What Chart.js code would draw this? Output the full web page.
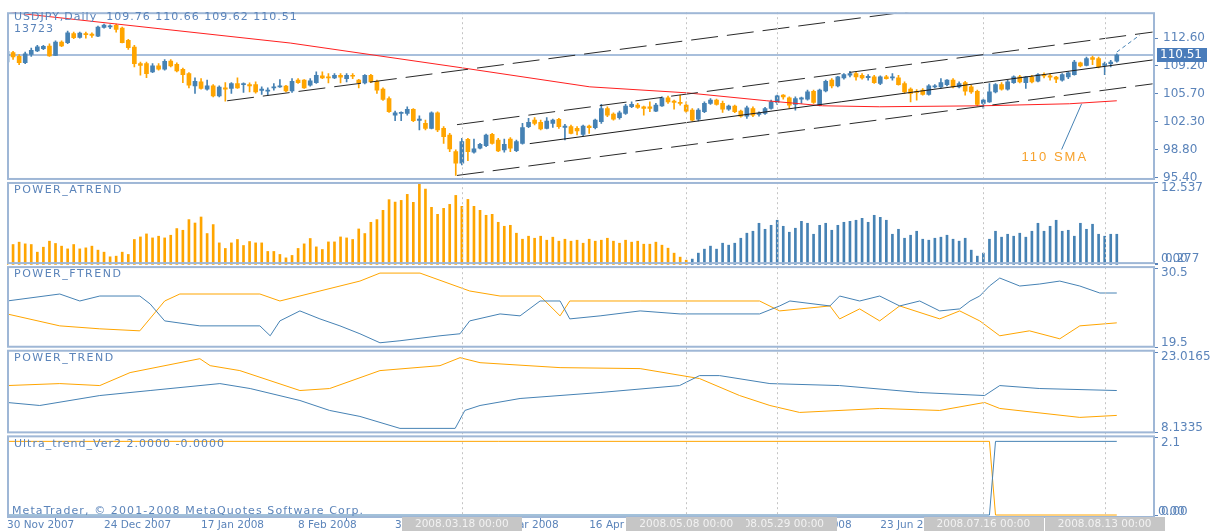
<!DOCTYPE html>
<html lang="en">
<head>
<meta charset="UTF-8">
<title>USDJPY Daily</title>
<script src="https://cdn.jsdelivr.net/npm/chart.js@4.4.1/dist/chart.umd.min.js"></script>
<style>
  body { margin: 0; background: #ffffff; }
  #grafica { display: block; }
</style>
</head>
<body>
<canvas id="grafica" width="1216" height="531"></canvas>
<script>
// bar 0 = 30 Nov 2007 ... bar 183 = 15 Aug 2008
const xTickIdx = [0, 16, 32, 48, 64, 80, 96, 112, 128, 144, 160, 176];
const xTickLabels = ['30 Nov 2007', '24 Dec 2007', '17 Jan 2008', '8 Feb 2008', '3 Mar 2008', '25 Mar 2008',
    '16 Apr 2008', '8 May 2008', '30 May 2008', '23 Jun 2008', '15 Jul 2008', '6 Aug 2008'];
const vlineIdx = [75, 112, 127, 161, 181];
const vlineLabels = ['2008.03.18 00:00', '2008.05.08 00:00', '2008.05.29 00:00', '2008.07.16 00:00', '2008.08.13 00:00'];

const opens = [
    109.65,110.80,110.35,109.57,110.59,111.00,111.29,111.62,110.47,112.11,
    112.03,113.17,112.68,113.17,113.09,112.85,113.91,113.99,114.16,113.83,
    112.31,111.49,109.44,109.44,108.42,109.16,108.75,109.77,109.36,108.75,
    108.22,106.70,107.19,106.29,106.70,105.47,106.45,106.37,106.99,106.86,
    106.86,106.86,106.13,106.04,106.45,106.58,106.66,106.09,107.40,107.40,
    106.78,107.11,107.93,107.81,107.68,108.01,107.60,108.01,107.40,107.07,
    108.01,107.27,106.29,105.14,103.09,103.30,103.30,103.79,102.44,102.07,
    101.46,103.38,101.46,100.64,98.59,97.15,100.10,98.51,99.00,99.33,
    100.72,100.02,98.79,100.14,98.71,99.61,101.66,102.48,102.19,101.46,
    102.07,102.56,101.58,101.66,101.46,100.72,101.74,101.54,102.28,103.91,
    103.22,102.77,103.30,104.12,104.32,104.12,104.12,103.59,104.24,105.23,
    104.82,104.65,104.32,103.71,102.60,103.50,104.53,104.94,104.53,103.83,
    104.20,103.59,102.97,103.91,103.18,103.30,103.91,104.65,105.55,105.23,
    104.41,105.06,105.06,106.04,104.32,106.09,107.40,106.70,107.68,108.01,
    108.22,108.01,107.72,107.81,106.99,107.81,107.68,107.68,106.99,106.29,
    106.04,106.17,105.63,106.58,106.58,106.86,107.40,106.58,107.11,106.58,
    106.04,104.53,104.73,105.96,106.86,106.29,107.11,107.81,107.11,107.81,
    107.27,108.09,107.93,107.77,107.40,107.81,108.09,109.53,109.24,110.18,
    110.06,109.24,109.44,109.76];
const highs = [
    111.21,110.96,110.55,110.88,111.37,111.70,111.70,111.90,112.27,112.27,
    113.46,113.34,113.34,113.34,113.26,114.07,114.32,114.24,114.32,113.95,
    112.44,111.70,109.65,109.65,109.44,109.44,109.94,109.94,109.53,108.91,
    108.34,107.68,107.60,107.40,106.86,106.70,107.11,107.11,107.68,107.07,
    107.07,107.19,106.58,106.45,106.99,107.48,106.78,107.60,107.60,107.48,
    107.60,108.42,108.42,108.22,108.22,108.22,108.22,108.22,107.52,108.09,
    108.13,107.40,106.45,105.35,103.59,103.50,104.12,103.91,103.01,102.48,
    103.50,103.50,101.66,100.84,98.79,100.23,100.23,100.14,99.61,100.76,
    100.84,100.23,100.14,100.31,100.02,102.07,102.69,102.77,102.48,102.77,
    102.60,102.69,101.95,101.87,101.66,101.87,101.87,102.60,104.41,104.12,
    103.38,103.59,104.41,104.73,104.53,104.20,104.73,104.53,105.35,105.43,
    104.94,105.55,104.73,103.91,103.91,104.73,105.14,105.06,104.82,104.32,
    104.32,103.71,104.20,104.12,103.50,104.04,104.94,105.55,105.63,105.35,
    105.35,105.31,106.17,106.17,106.29,107.40,107.60,107.89,108.22,108.50,
    108.42,108.22,108.09,108.01,107.93,108.01,108.22,108.01,107.19,106.45,
    106.25,106.37,106.86,106.86,107.60,107.48,107.60,107.19,107.27,106.78,
    106.17,105.06,106.99,106.99,107.11,107.40,107.93,108.01,107.89,108.01,
    108.22,108.30,108.22,107.89,108.22,108.42,109.85,109.65,110.26,110.39,
    110.26,109.65,109.85,110.66];
const lows = [
    109.36,109.98,109.32,109.44,110.35,110.92,111.17,110.35,110.43,111.53,
    111.90,112.52,112.60,112.60,112.68,112.76,113.83,113.75,113.34,111.99,
    111.21,109.04,108.01,107.72,108.34,108.63,108.63,109.04,108.42,107.11,
    106.45,105.76,106.29,106.17,105.35,105.35,104.82,105.76,106.37,105.88,
    105.96,105.80,105.63,105.55,106.17,106.50,105.96,105.88,106.99,106.37,
    106.66,106.99,107.60,107.07,107.60,107.07,107.19,107.60,106.45,106.95,
    107.11,105.76,104.90,103.42,102.40,102.40,103.09,102.28,101.25,101.25,
    101.37,101.05,99.61,98.59,95.64,96.95,97.48,98.38,98.92,99.20,
    99.49,98.59,98.51,98.59,98.59,99.49,101.54,101.87,101.25,101.37,
    101.58,101.46,100.02,100.76,100.64,100.55,100.84,101.37,102.07,102.89,
    102.48,102.60,103.18,104.00,103.91,103.09,103.50,103.50,104.16,104.53,
    103.83,104.32,103.42,102.36,102.36,103.38,104.41,104.32,103.42,103.67,
    103.38,102.85,102.69,102.89,102.97,103.18,103.83,104.41,105.06,103.91,
    103.71,104.53,104.94,104.53,104.24,105.96,106.45,106.58,107.52,107.81,
    107.40,107.52,107.40,106.99,106.86,107.52,107.40,106.78,105.76,104.73,
    104.94,105.55,105.55,106.45,106.45,106.70,106.45,106.45,105.55,105.76,
    104.24,103.91,104.65,105.84,106.17,106.17,106.99,107.07,106.37,107.07,
    107.19,107.68,107.40,107.11,107.27,107.60,108.01,109.04,109.16,109.32,
    108.91,108.09,109.04,109.62];
const closes = [
    110.96,110.26,109.57,110.67,111.08,111.53,111.58,110.39,112.11,111.62,
    113.26,112.64,113.21,113.01,112.93,113.95,114.20,114.12,113.66,112.03,
    111.41,109.44,109.24,108.22,109.16,108.75,109.73,109.16,108.54,108.09,
    106.78,107.27,106.37,106.70,105.47,106.54,106.29,106.99,106.45,106.99,
    106.70,105.96,106.29,106.17,106.58,106.70,106.09,107.27,107.11,106.45,
    107.31,108.01,107.68,107.68,108.01,107.77,108.01,107.89,107.11,108.01,
    107.19,106.17,105.02,103.50,103.38,103.42,103.79,102.40,102.60,101.46,
    103.38,101.25,100.43,98.92,97.15,99.82,98.59,98.92,99.49,100.64,
    99.61,98.67,99.49,99.00,99.82,101.54,102.19,102.07,101.37,102.36,
    102.48,101.66,101.74,100.84,101.13,101.74,101.54,102.48,103.91,103.09,
    102.60,103.38,104.20,104.41,104.04,103.91,103.91,104.32,105.23,104.73,
    104.65,104.53,103.59,102.48,103.71,104.53,104.94,104.41,103.83,104.20,
    103.50,102.97,104.00,103.09,103.30,103.91,104.73,105.47,105.35,104.32,
    105.14,105.23,105.96,104.65,106.17,107.27,106.70,107.81,108.09,108.22,
    107.81,107.68,107.89,107.11,107.81,107.60,107.81,106.86,105.96,105.76,
    105.88,105.63,106.70,106.70,107.11,107.40,106.58,106.99,106.04,105.96,
    104.41,104.94,105.96,106.86,106.29,107.19,107.81,107.19,107.81,107.19,
    108.09,107.93,107.77,107.52,108.09,108.30,109.65,109.16,110.06,109.98,
    109.04,109.44,109.65,110.51];

// [bar, price] points
const sma110 = [[0, 115.95], [1.8, 115.67], [46.7, 111.99], [75.2, 108.91], [96.1, 106.58], [112.1, 105.84],
    [125.3, 104.86], [134.5, 104.24], [143.9, 104.12], [160.9, 104.24], [175.2, 104.49], [183, 104.86]];
const channelA = [[36.3, 104.86], [189.3, 119.85]];
const channelB = [[74.2, 101.91], [188.9, 113.34]];
const channelC = [[86.2, 99.57], [188.9, 109.90]];
const channelD = [[74.2, 95.64], [188.9, 106.95]];
const projection = [[183, 110.88], [186.8, 112.97]];
const smaPointer = [[173.9, 98.84], [177.2, 104.49]];
const priceTicks = [95.40, 98.80, 102.30, 105.70, 109.20, 112.60];

const atrend = [
    3.22,3.12,3.48,3.22,3.12,1.95,2.71,3.63,3.28,2.87,
    2.45,3.12,2.45,2.61,2.87,2.26,1.95,1.24,1.34,1.95,
    1.60,3.89,4.28,4.74,4.13,4.39,4.13,4.54,5.56,5.30,
    6.93,6.41,7.33,4.80,6.17,3.37,2.52,3.37,3.89,2.97,
    3.58,3.37,3.37,2.06,2.06,1.60,1.08,1.45,2.52,3.22,
    4.04,2.76,2.36,3.52,3.52,4.28,4.13,3.89,5.50,4.80,
    6.52,6.93,8.35,9.98,9.61,9.87,10.79,9.57,12.5,11.6,
    8.81,7.74,8.65,9.26,10.63,8.96,10.02,8.96,8.35,7.59,
    7.74,6.52,5.91,6.06,4.85,3.93,4.39,4.08,4.39,3.78,
    4.24,3.63,3.93,3.63,3.78,3.32,3.93,3.63,3.78,4.08,
    3.63,3.32,3.78,3.48,3.63,3.17,3.17,3.48,3.02,2.56,
    1.80,1.19,0.73,0.89,1.80,2.41,2.87,2.41,3.32,3.02,
    3.32,4.08,4.85,5.15,6.37,5.45,6.06,6.83,5.91,5.00,
    5.61,6.67,6.37,4.69,6.06,6.37,5.30,6.06,6.52,6.67,
    6.83,7.13,6.52,7.59,7.28,6.83,4.69,5.45,4.08,4.54,
    5.15,3.93,3.78,4.08,4.24,4.54,3.93,3.63,4.08,2.26,
    1.34,1.80,3.93,5.15,4.24,4.69,4.39,4.85,4.24,5.15,
    6.37,5.15,5.91,6.83,5.15,5.30,4.39,6.37,5.45,6.22,
    4.69,4.39,4.69,4.69];
const atrendBlueFrom = 113;
const atrendTicks = [12.537, 0.277, 0];
const atrendTickText = ['12.537', '0.277', '0.00'];

const ftrendBlue = [[0, 25.93], [8.7, 26.90], [12, 25.93], [15.3, 26.62], [21.9, 26.62], [23.6, 25.52], [26, 23.16],
    [31.8, 22.47], [41.7, 22.47], [43.4, 21.09], [45, 23.16], [48.3, 24.55], [51.6, 23.44], [54.9, 22.47],
    [58.2, 21.37], [61.5, 20.12], [64.8, 20.40], [71.4, 21.09], [74.7, 21.37], [76.3, 23.16], [81.3, 24.13],
    [84.6, 23.86], [87.9, 25.93], [91.2, 25.93], [92.8, 23.44], [97.8, 23.86], [104.4, 24.55], [111, 24.13],
    [124.1, 24.13], [127.4, 25.24], [129.1, 25.93], [135.7, 25.24], [137.3, 26.62], [140.6, 25.93], [143.9, 26.62],
    [147.2, 25.24], [150.5, 25.93], [153.8, 24.55], [157.1, 24.83], [158.8, 25.93], [160.4, 26.62], [162, 28.01],
    [163.7, 29.12], [167, 28.01], [170.3, 28.29], [173.6, 28.70], [176.9, 28.01], [180.2, 27.04], [183, 27.04]];
const ftrendOrange = [[0, 24.13], [8.7, 22.47], [15.3, 22.06], [21.9, 21.78], [26, 25.93], [28.5, 26.90], [41.7, 26.90],
    [45, 25.93], [51.6, 27.32], [58.2, 28.70], [61.5, 29.81], [68.1, 29.81], [76.3, 27.32], [81.3, 26.62],
    [87.9, 26.62], [91.2, 23.86], [92.8, 25.93], [104.4, 25.93], [124.1, 25.93], [127.4, 24.55], [135.7, 25.24],
    [137.3, 23.44], [140.6, 24.83], [143.9, 23.16], [147.2, 25.24], [153.8, 23.44], [157.1, 24.55], [160.4, 23.16],
    [163.7, 21.09], [168.6, 21.78], [173.6, 20.67], [176.9, 22.47], [183, 22.89]];
const ftrendTicks = [30.5, 19.5];
const ftrendTickText = ['30.5', '19.5'];

const trendBlue = [[0, 13.68], [5.4, 13.12], [15.3, 14.97], [23.6, 15.90], [35.1, 17.19], [40.1, 16.27], [48.3, 14.05],
    [53.2, 12.20], [58.2, 11.09], [64.8, 8.87], [73.9, 8.87], [75.5, 12.20], [78, 13.12], [84.6, 14.42],
    [97.8, 15.53], [110.9, 16.82], [114.2, 18.67], [117.5, 18.67], [125.8, 17.19], [137.3, 16.82], [150.5, 15.53],
    [161.2, 14.97], [163.7, 16.82], [170.3, 16.27], [183, 15.90]];
const trendOrange = [[0, 16.82], [8.7, 17.19], [15.3, 16.82], [20.3, 19.23], [31.8, 21.81], [33.5, 20.52], [38.4, 19.60],
    [48.3, 15.90], [53.2, 16.27], [61.5, 19.60], [71.4, 20.52], [74.7, 22.00], [78, 21.07], [91.2, 20.15],
    [104.4, 19.97], [114.2, 18.12], [120.8, 14.97], [125.8, 13.12], [130.7, 11.83], [143.9, 12.57], [153.8, 12.20],
    [161.2, 13.68], [163.7, 12.57], [176.9, 10.91], [183, 11.28]];
const trendTicks = [23.0165, 8.1335];
const trendTickText = ['23.0165', '8.1335'];

const ultraBlue = [[0, 0], [162, 0], [163, 2], [183, 2]];
const ultraOrange = [[0, 2], [162, 2], [163, 0], [183, 0]];
const ultraTicks = [2.1, 0, 0];
const ultraTickText = ['2.1', '0.00', '0.00'];

const colUp = '#4682b4';
const colDn = '#ffa500';
const colText = '#5b84ba';
const colFrame = '#9fb7d6';
const fuente = '"DejaVu Sans", sans-serif';

const pts = arr => arr.map(p => ({ x: p[0], y: p[1] }));
const idx = opens.map((o, i) => i);
const candleCol = idx.map(i => closes[i] >= opens[i] ? colUp : colDn);

function linea(data, axis, color, dash) {
    return {
        type: 'line', data: pts(data), yAxisID: axis, borderColor: color, borderWidth: 1,
        borderDash: dash || [], pointRadius: 0, tension: 0, fill: false
    };
}

const panelInfo = {
    yA: { ticks: atrendTicks, text: atrendTickText, dx: [0, 4, 0] },
    yF: { ticks: ftrendTicks, text: ftrendTickText, dx: [0, 0] },
    yT: { ticks: trendTicks, text: trendTickText, dx: [0, 0] },
    yU: { ticks: ultraTicks, text: ultraTickText, dx: [0, 0, -3] }
};

function texto(ctx, str, x, y, color, font, spacing, align) {
    ctx.save();
    ctx.font = font || ('11px ' + fuente);
    ctx.fillStyle = color || colText;
    ctx.textBaseline = 'middle';
    ctx.textAlign = align || 'left';
    ctx.letterSpacing = spacing || '0px';
    ctx.fillText(str, x, y);
    ctx.restore();
}

const mtPlugin = {
    id: 'mt',
    beforeDatasetsDraw(chart) {
        const { ctx, chartArea: a, scales } = chart;
        const yp = Math.round(scales.yPrice.getPixelForValue(closes[closes.length - 1]));
        ctx.save();
        ctx.strokeStyle = '#a8bfdc';
        ctx.lineWidth = 2;
        ctx.beginPath();
        ctx.moveTo(a.left, yp);
        ctx.lineTo(a.right, yp);
        ctx.stroke();
        ctx.restore();
    },
    afterDatasetsDraw(chart) {
        const { ctx, chartArea: a, scales } = chart;
        // dotted vertical lines
        ctx.save();
        ctx.strokeStyle = '#c4c4c4';
        ctx.lineWidth = 1;
        ctx.setLineDash([2, 3]);
        vlineIdx.forEach(i => {
            const x = Math.round(scales.x.getPixelForValue(i)) + 0.5;
            ctx.beginPath();
            ctx.moveTo(x, a.top);
            ctx.lineTo(x, a.bottom);
            ctx.stroke();
        });
        ctx.restore();

        // panel frames
        const ids = ['yPrice', 'yA', 'yF', 'yT', 'yU'];
        ctx.save();
        ctx.strokeStyle = colFrame;
        ctx.lineWidth = 2;
        ids.forEach((id, k) => {
            const s = scales[id];
            const t = k === 0 ? s.top + 1 : s.top + 2;
            const b = k === ids.length - 1 ? s.bottom - 1 : s.bottom - 2;
            ctx.strokeRect(a.left + 1, t, a.right - a.left - 2, b - t);
        });
        ctx.restore();

        // indicator window min / max labels
        Object.keys(panelInfo).forEach(id => {
            const s = scales[id];
            const p = panelInfo[id];
            p.ticks.forEach((v, k) => {
                const y = k === 0 ? s.getPixelForValue(v) + 5 : s.bottom - 6;
                texto(ctx, p.text[k], a.right + 6 + p.dx[k], y, colText, '12px ' + fuente);
            });
        });

        // window captions
        const n = closes.length - 1;
        texto(ctx, 'USDJPY,Daily  ' + opens[n].toFixed(2) + ' ' + highs[n].toFixed(2) + ' ' +
            lows[n].toFixed(2) + ' ' + closes[n].toFixed(2), 14, 17, colText, null, '1px');
        texto(ctx, '13723', 14, 29, colText, null, '1px');
        texto(ctx, 'POWER_ATREND', 14, scales.yA.top + 9, colText, null, '1.5px');
        texto(ctx, 'POWER_FTREND', 14, scales.yF.top + 9, colText, null, '1.5px');
        texto(ctx, 'POWER_TREND', 14, scales.yT.top + 9, colText, null, '1.5px');
        texto(ctx, 'Ultra_trend_Ver2 2.0000 -0.0000', 14, scales.yU.top + 10, colText, null, '1px');
        texto(ctx, 'MetaTrader, \u00a9 2001-2008 MetaQuotes Software Corp.', 12, scales.yU.bottom - 7, colText, null, '1.1px');
        texto(ctx, '110 SMA', scales.x.getPixelForValue(167.3), scales.yPrice.getPixelForValue(97.85),
            '#f7a12b', '13px "Liberation Sans", Arial, sans-serif', '2px');
    },
    afterDraw(chart) {
        const { ctx, scales, chartArea: a } = chart;
        // time labels of the vertical lines
        ctx.save();
        ctx.font = '10.5px ' + fuente;
        for (let k = vlineIdx.length - 1; k >= 0; k--) {
            const x = scales.x.getPixelForValue(vlineIdx[k]);
            const w = ctx.measureText(vlineLabels[k]).width + 26;
            ctx.fillStyle = '#c6c6c6';
            ctx.fillRect(Math.round(x - w / 2), a.bottom - 1, Math.round(w), 14);
            texto(ctx, vlineLabels[k], x, a.bottom + 6, '#f2f2f2', '10.5px ' + fuente, '0px', 'center');
        }
        // last price box
        const yp = Math.round(scales.yPrice.getPixelForValue(closes[closes.length - 1]));
        ctx.fillStyle = '#4a7cba';
        ctx.fillRect(a.right + 2, yp - 7, 50, 14);
        ctx.restore();
        texto(ctx, closes[closes.length - 1].toFixed(2), a.right + 5, yp, '#ffffff', '12px ' + fuente);
    }
};

function fixW(s) { s.width = 61; }
function indAxis(weight, min, max, tickVals) {
    return {
        type: 'linear', position: 'right', stack: 'mt', stackWeight: weight, min: min, max: max,
        afterBuildTicks: s => { s.ticks = tickVals.map(v => ({ value: v })); },
        afterFit: fixW,
        ticks: { display: false },
        grid: { drawOnChartArea: false, drawTicks: true, tickLength: 3, color: colText },
        border: { display: false }
    };
}

new Chart(document.getElementById('grafica'), {
    type: 'bar',
    data: {
        datasets: [
            linea(channelA, 'yPrice', '#2a2a2a', [27, 9]),
            linea(channelB, 'yPrice', '#2a2a2a', [27, 9]),
            linea(channelC, 'yPrice', '#1e1e1e'),
            linea(channelD, 'yPrice', '#2a2a2a', [27, 9]),
            linea(sma110, 'yPrice', '#ff2020'),
            linea(projection, 'yPrice', colUp, [4, 3]),
            linea(smaPointer, 'yPrice', colUp),
            {
                type: 'bar', data: idx.map(i => ({ x: i, y: [lows[i], highs[i]] })), yAxisID: 'yPrice',
                backgroundColor: candleCol, barThickness: 1, grouped: false, borderWidth: 0
            },
            {
                type: 'bar', data: idx.map(i => ({ x: i, y: [opens[i], closes[i]] })), yAxisID: 'yPrice',
                backgroundColor: candleCol, barThickness: 4, grouped: false, borderWidth: 0, minBarLength: 1
            },
            {
                type: 'bar', data: atrend.map((v, i) => ({ x: i, y: v })), yAxisID: 'yA',
                backgroundColor: atrend.map((v, i) => i >= atrendBlueFrom ? colUp : colDn),
                barThickness: 2, grouped: false, borderWidth: 0
            },
            linea(ftrendBlue, 'yF', colUp),
            linea(ftrendOrange, 'yF', colDn),
            linea(trendBlue, 'yT', colUp),
            linea(trendOrange, 'yT', colDn),
            linea(ultraBlue, 'yU', colUp),
            linea(ultraOrange, 'yU', colDn)
        ]
    },
    options: {
        responsive: false,
        animation: false,
        devicePixelRatio: 1,
        layout: { padding: { left: 7, top: 10, right: 0, bottom: 0 } },
        plugins: { legend: { display: false }, tooltip: { enabled: false } },
        scales: {
            x: {
                type: 'linear', min: 0, max: 189.3, offset: false,
                afterBuildTicks: s => { s.ticks = xTickIdx.map(v => ({ value: v })); },
                afterFit: s => { s.height = 13; },
                ticks: {
                    autoSkip: false, maxRotation: 0, align: 'start', padding: -2, color: colText,
                    font: { family: fuente, size: 10.5 },
                    callback: v => xTickLabels[xTickIdx.indexOf(v)] || ''
                },
                grid: { drawOnChartArea: false, drawTicks: true, tickLength: 3, color: colText },
                border: { display: false }
            },
            yPrice: {
                type: 'linear', position: 'right', stack: 'mt', stackWeight: 169.5, min: 94.96, max: 115.795,
                afterBuildTicks: s => { s.ticks = priceTicks.map(v => ({ value: v })); },
                afterFit: fixW,
                ticks: {
                    autoSkip: false, color: colText, padding: 5, font: { family: fuente, size: 12 },
                    callback: v => v.toFixed(2)
                },
                grid: { drawOnChartArea: false, drawTicks: true, tickLength: 3, color: colText },
                border: { display: false }
            },
            yA: indAxis(84.5, -0.028, 12.84, atrendTicks),
            yF: indAxis(84, 19.29, 30.92, ftrendTicks),
            yT: indAxis(86, 7.76, 23.66, trendTicks),
            yU: indAxis(84, -0.081, 2.19, ultraTicks)
        }
    },
    plugins: [mtPlugin]
});
</script>
</body>
</html>
